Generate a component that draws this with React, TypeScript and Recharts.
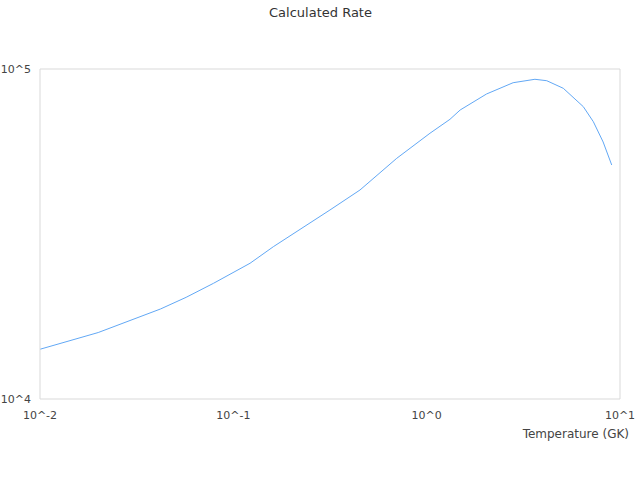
import React from 'react';
import { LineChart, Line, XAxis, YAxis } from 'recharts';

// temperature (GK) and calculated rate
const temperatures = [
  0.01, 0.02, 0.042, 0.057, 0.079, 0.122, 0.161, 0.316, 0.452, 0.7, 1.04,
  1.32, 1.49, 2.04, 2.8, 3.63, 4.18, 5.09, 6.46, 7.28, 8.18, 9.06,
];
const rates = [
  14150, 15900, 18740, 20330, 22420, 25780, 28940, 37390, 42990, 53620, 63870,
  70400, 75120, 84000, 90880, 93070, 92150, 87400, 76890, 69220, 60100, 51180,
];
const xTicks = [0.01, 0.1, 1, 10];
const yTicks = [10000, 100000];

const data = temperatures.map((t, i) => ({ t, rate: rates[i] }));

const powerLabel = (v: number) => `10^${Math.round(Math.log10(v))}`;

const tickStyle = { fontSize: 11, fill: '#444' };
const borderColor = '#d9d9d9';

export default function App() {
  return (
    <div
      style={{
        position: 'absolute',
        left: 0,
        top: 0,
        width: 640,
        height: 480,
        fontFamily: '"DejaVu Sans", sans-serif',
        background: '#fff',
      }}
    >
      <div
        style={{
          position: 'absolute',
          top: 5,
          left: 0,
          width: 641,
          textAlign: 'center',
          fontSize: 13,
          lineHeight: '15px',
          color: '#333',
        }}
      >
        Calculated Rate
      </div>
      <LineChart
        width={640}
        height={480}
        data={data}
        margin={{ top: 68, right: 19, bottom: 41, left: 0 }}
      >
        <XAxis
          dataKey="t"
          type="number"
          scale="log"
          domain={[0.01, 10]}
          ticks={xTicks}
          tickFormatter={powerLabel}
          allowDataOverflow
          height={40}
          tickSize={0}
          tickMargin={12}
          tickLine={false}
          axisLine={{ stroke: borderColor }}
          tick={tickStyle}
          interval={0}
          label={{
            value: 'Temperature (GK)',
            position: 'insideBottomRight',
            offset: 0,
            dx: 9,
            dy: -1,
            fontSize: 12,
            fill: '#444',
          }}
        />
        <XAxis
          xAxisId="top"
          orientation="top"
          dataKey="t"
          type="number"
          scale="log"
          domain={[0.01, 10]}
          allowDataOverflow
          height={1}
          tick={false}
          tickLine={false}
          axisLine={{ stroke: borderColor }}
        />
        <YAxis
          type="number"
          scale="log"
          domain={[10000, 100000]}
          ticks={yTicks}
          tickFormatter={powerLabel}
          allowDataOverflow
          width={40}
          tickSize={0}
          tickMargin={9}
          tickLine={false}
          axisLine={{ stroke: borderColor }}
          tick={tickStyle}
          interval={0}
        />
        <YAxis
          yAxisId="right"
          orientation="right"
          type="number"
          scale="log"
          domain={[10000, 100000]}
          allowDataOverflow
          width={1}
          tick={false}
          tickLine={false}
          axisLine={{ stroke: borderColor }}
        />
        <Line
          dataKey="rate"
          type="linear"
          stroke="#62a8f5"
          strokeWidth={1}
          dot={false}
          isAnimationActive={false}
        />
      </LineChart>
    </div>
  );
}
